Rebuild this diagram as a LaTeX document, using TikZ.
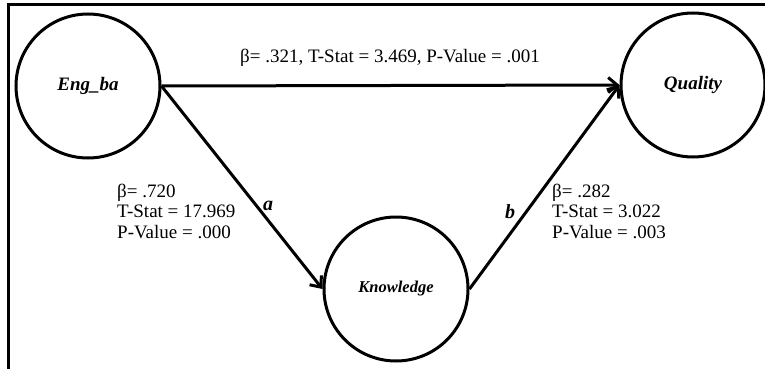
\documentclass[tikz,border=0pt]{standalone}
\usepackage{fontspec}
\setmainfont{Liberation Serif}
\usetikzlibrary{arrows.meta}
\begin{document}
\begin{tikzpicture}[x=1pt,y=-1pt,
  construct/.style={circle,draw,line width=3pt,minimum size=144pt,inner sep=0pt,
    font=\fontsize{19}{21}\selectfont\bfseries\itshape},
  path/.style={line width=3pt,-{Straight Barb[length=9pt,width=15pt,line width=3pt]}},
  stat/.style={inner sep=0pt,align=left,font=\fontsize{19}{20.5}\selectfont},
  pathlabel/.style={inner sep=0pt,font=\fontsize{20}{22}\selectfont\bfseries\itshape}]
\useasboundingbox (0,0) rectangle (765,369);
\draw[line width=2.5pt] (8.5,369) -- (8.5,4.3) -- (765,4.3);
\node[construct] (eng) at (88,86) {Eng\_ba};
\node[construct] (qual) at (693,85) {Quality};
\node[construct,font=\fontsize{16.5}{18}\selectfont\bfseries\itshape] (know) at (396,289) {Knowledge};
\draw[path] (eng.east) -- (qual.west);
\draw[path] (eng.east) -- (know.west);
\draw[path] (know.east) -- (qual.west);
\node[stat] (top) at (390,58) {β= .321, T-Stat = 3.469, P-Value = .001};
\node[stat,anchor=west] (left) at (117,211) {β= .720\\T-Stat = 17.969\\P-Value = .000};
\node[stat,anchor=west] (right) at (552,211) {β= .282\\T-Stat = 3.022\\P-Value = .003};
\node[pathlabel] (a) at (268,206) {a};
\node[pathlabel] (b) at (510,212) {b};
\end{tikzpicture}
\end{document}
